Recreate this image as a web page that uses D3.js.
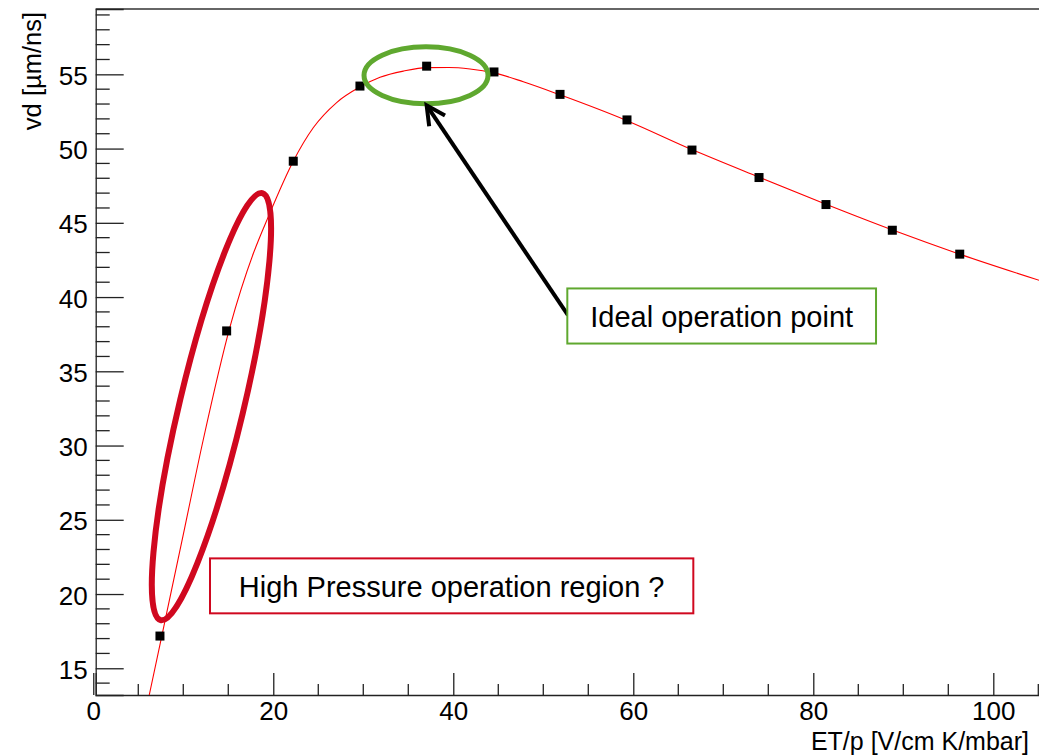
<!DOCTYPE html>
<html>
<head>
<meta charset="utf-8">
<script src="https://cdn.jsdelivr.net/npm/d3@7"></script>
<style>
  html, body { margin: 0; padding: 0; background: #fff; }
  svg { display: block; font-family: "Liberation Sans", Arial, Helvetica, sans-serif; }
</style>
</head>
<body>
<svg id="chart" width="1039" height="755"></svg>
<script>
// ---- data ----
const pointsX = [7.41, 14.82, 22.22, 29.63, 37.04, 44.52, 51.86, 59.30, 66.52, 73.97, 81.41, 88.78, 96.27];
const pointsY = [17.17, 37.72, 49.15, 54.21, 55.55, 55.16, 53.65, 51.93, 49.90, 48.05, 46.23, 44.50, 42.89];

// fitted curve
const fitX = [6.22, 7.60, 10.0, 12.22, 15.19, 17.78, 19.44, 22.22, 24.44, 27.04, 29.63, 31.86, 34.5, 37.04, 39.5, 41.86, 44.52, 47.78, 51.86, 59.30, 66.52, 73.97, 81.41, 88.74, 96.27, 105.4];
const fitY = [13.2, 17.13, 24.0, 30.39, 37.99, 42.93, 45.40, 49.15, 51.40, 53.10, 54.15, 54.80, 55.22, 55.45, 55.46, 55.36, 55.10, 54.50, 53.62, 51.88, 49.93, 48.07, 46.25, 44.53, 42.89, 41.07];

const xMajorTicks = [0, 20, 40, 60, 80, 100];
const yMajorTicks = [15, 20, 25, 30, 35, 40, 45, 50, 55];
const xTitle = "ET/p [V/cm K/mbar]";
const yTitle = "vd [µm/ns]";
const noteHigh = "High Pressure operation region ?";
const noteIdeal = "Ideal operation point";

(function () {
// ---- layout ----
const svg = d3.select("#chart");
const W = 1039, H = 755;
const pLeft = 95.7, pTop = 9, pBottom = 695, pRight = 1043.7;

const x = d3.scaleLinear().domain([0.27, 105.6]).range([pLeft, pRight]);
const y = d3.scaleLinear().domain([13.2, 59.4]).range([pBottom, pTop]);

const axisColor = "#222";
const fontSize = 26;

// clip
svg.append("defs").append("clipPath").attr("id", "plotclip")
  .append("rect").attr("x", pLeft).attr("y", pTop).attr("width", pRight - pLeft).attr("height", pBottom - pTop);

// frame line on top
svg.append("line").attr("x1", pLeft).attr("x2", W).attr("y1", pTop).attr("y2", pTop)
  .attr("stroke", "#333").attr("stroke-width", 1.6);

// Y axis
const yMinor = d3.range(14, 60, 1).filter(v => v % 5 !== 0);
const yAxis = d3.axisRight(y).tickValues(yMajorTicks).tickSize(28).tickPadding(0).tickFormat(d3.format("d"));
const gy = svg.append("g").attr("transform", `translate(${pLeft},0)`);
gy.call(yAxis);
gy.select(".domain").attr("stroke", axisColor).attr("stroke-width", 1.3);
gy.selectAll(".tick line").attr("stroke", axisColor).attr("stroke-width", 1.3);
gy.selectAll(".tick text")
  .attr("x", -8).attr("dy", null).attr("y", 10)
  .attr("text-anchor", "end").attr("fill", "#000")
  .style("font-size", fontSize + "px").style("font-family", "'Liberation Sans', Arial, sans-serif");
gy.selectAll(".ymin").data(yMinor).enter().append("line")
  .attr("x1", 0).attr("x2", 14).attr("y1", d => y(d)).attr("y2", d => y(d))
  .attr("stroke", axisColor).attr("stroke-width", 1.3);

// X axis
const xMinor = d3.range(5, 106, 5).filter(v => v % 20 !== 0);
const xAxis = d3.axisTop(x).tickValues(xMajorTicks).tickSize(22).tickFormat(d3.format("d"));
const gx = svg.append("g").attr("transform", `translate(0,${pBottom})`);
gx.call(xAxis);
gx.select(".domain").attr("stroke", axisColor).attr("stroke-width", 1.3);
gx.selectAll(".tick line").attr("stroke", axisColor).attr("stroke-width", 1.3);
gx.selectAll(".tick text")
  .attr("y", 25).attr("dy", null)
  .attr("text-anchor", "middle").attr("fill", "#000")
  .style("font-size", fontSize + "px").style("font-family", "'Liberation Sans', Arial, sans-serif");
gx.selectAll(".xmin").data(xMinor).enter().append("line")
  .attr("x1", d => x(d)).attr("x2", d => x(d)).attr("y1", 0).attr("y2", -11)
  .attr("stroke", axisColor).attr("stroke-width", 1.3);

// axis titles
svg.append("text").attr("x", 1029).attr("y", 750).attr("text-anchor", "end")
  .style("font-size", "25px").attr("fill", "#000").text(xTitle);
svg.append("text").attr("transform", "translate(41,12) rotate(-90)").attr("text-anchor", "end")
  .style("font-size", "25.5px").attr("fill", "#000").text(yTitle);

// fit curve
const fitData = fitX.map((v, i) => [v, fitY[i]]);
svg.append("path").datum(fitData)
  .attr("clip-path", "url(#plotclip)")
  .attr("fill", "none").attr("stroke", "#ff0000").attr("stroke-width", 1.1)
  .attr("d", d3.line().x(d => x(d[0])).y(d => y(d[1])).curve(d3.curveMonotoneX));

// data points
const pts = pointsX.map((v, i) => [v, pointsY[i]]);
const ms = 9;
svg.append("g").selectAll("rect").data(pts).enter().append("rect")
  .attr("x", d => x(d[0]) - ms / 2).attr("y", d => y(d[1]) - ms / 2)
  .attr("width", ms).attr("height", ms).attr("fill", "#000");

// ---- annotations ----
const red = "#d0081f", green = "#5fa82f";

// red ellipse around low-field points
svg.append("ellipse")
  .attr("transform", `translate(${x(13.13)},${y(32.62)}) rotate(-76.6)`)
  .attr("rx", 219.5).attr("ry", 32)
  .attr("fill", "none").attr("stroke", red).attr("stroke-width", 6);

// red box + text
const hb = { x0: 12.97, x1: 66.67, yTop: 22.40, yBot: 18.70 };
svg.append("rect").attr("x", x(hb.x0)).attr("y", y(hb.yTop))
  .attr("width", x(hb.x1) - x(hb.x0)).attr("height", y(hb.yBot) - y(hb.yTop))
  .attr("fill", "#fff").attr("stroke", red).attr("stroke-width", 2);
svg.append("text").attr("x", (x(hb.x0) + x(hb.x1)) / 2).attr("y", y(hb.yBot) - 16.5)
  .attr("text-anchor", "middle").style("font-size", "29px").attr("fill", "#000").text(noteHigh);

// green ellipse around maximum
svg.append("ellipse").attr("cx", x(36.97)).attr("cy", y(54.93))
  .attr("rx", 62).attr("ry", 28.5)
  .attr("fill", "none").attr("stroke", green).attr("stroke-width", 5);

// arrow from green box to the ellipse
const tip = [x(37.04), y(52.91)], tail = [x(52.74), y(38.78)];
svg.append("line").attr("x1", tail[0]).attr("y1", tail[1]).attr("x2", tip[0]).attr("y2", tip[1])
  .attr("stroke", "#000").attr("stroke-width", 4);
const ang = Math.atan2(tail[1] - tip[1], tail[0] - tip[0]);
const aLen = 21, spread = 27 * Math.PI / 180;
const a1 = [tip[0] + aLen * Math.cos(ang - spread), tip[1] + aLen * Math.sin(ang - spread)];
const a2 = [tip[0] + aLen * Math.cos(ang + spread), tip[1] + aLen * Math.sin(ang + spread)];
svg.append("path").attr("d", `M${a1[0]},${a1[1]}L${tip[0]},${tip[1]}L${a2[0]},${a2[1]}`)
  .attr("fill", "none").attr("stroke", "#000").attr("stroke-width", 4).attr("stroke-linejoin", "miter");

// green box + text
const gb = { x0: 52.67, x1: 86.97, yTop: 40.58, yBot: 36.87 };
svg.append("rect").attr("x", x(gb.x0)).attr("y", y(gb.yTop))
  .attr("width", x(gb.x1) - x(gb.x0)).attr("height", y(gb.yBot) - y(gb.yTop))
  .attr("fill", "#fff").attr("stroke", green).attr("stroke-width", 2);
svg.append("text").attr("x", (x(gb.x0) + x(gb.x1)) / 2).attr("y", y(gb.yBot) - 16.5)
  .attr("text-anchor", "middle").style("font-size", "29px").attr("fill", "#000").text(noteIdeal);
})();
</script>
</body>
</html>
